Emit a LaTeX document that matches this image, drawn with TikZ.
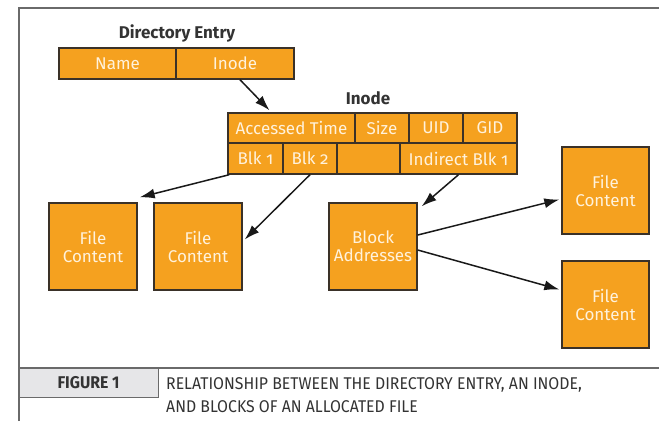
\documentclass[tikz,border=0pt]{standalone}
\usepackage{fontspec}
\setmainfont{Fira Sans}
\newfontfamily\boxfont[Numbers=OldStyle]{Fira Sans}
\newfontfamily\capfont[FakeStretch=0.93]{Fira Sans}
\usetikzlibrary{arrows.meta}
\definecolor{orng}{HTML}{F5A11F}
\definecolor{bord}{HTML}{3A3128}
\definecolor{txtl}{HTML}{FFF2DC}
\definecolor{ttl}{HTML}{333333}
\definecolor{frm}{HTML}{6A6A6A}
\definecolor{figgray}{HTML}{E6E6E8}
\tikzset{
  cell/.style={draw=bord, fill=orng, line width=1.4pt, text=txtl,
    font=\boxfont\fontsize{17}{18}\selectfont, inner sep=0pt, align=center},
  bigbox/.style={cell, minimum width=88pt, minimum height=87pt},
  ttlstyle/.style={text=ttl, font=\bfseries\fontsize{17}{18}\selectfont},
  arr/.style={draw=black!90, line width=1.5pt, -{Latex[length=15pt,width=10pt]}},
  frame/.style={draw=frm, line width=1.2pt}
}
\begin{document}
\begin{tikzpicture}[x=1pt,y=-1pt]
\useasboundingbox (0,0) rectangle (659,421);
% frame
\draw[frame] (19,421) -- (19,8) -- (659,8);
\draw[frame] (19,368) -- (659,368);
\node[draw=frm, fill=figgray, line width=0.8pt, minimum width=139pt, minimum height=29pt, inner sep=0pt,
  text=ttl, font=\capfont\bfseries\fontsize{17}{18}\selectfont] (fig) at (88.5,382.5) {FIGURE 1};
\node[anchor=west, align=left, text=ttl, inner sep=0pt,
  font=\capfont\fontsize{17}{23}\selectfont] (cap) at (166,395)
  {RELATIONSHIP BETWEEN THE DIRECTORY ENTRY, AN INODE,\\AND BLOCKS OF AN ALLOCATED FILE};
% directory entry
\node[ttlstyle] (dtitle) at (177,33) {Directory Entry};
\node[cell, minimum width=117pt, minimum height=31pt] (dname) at (117.5,63.5) {Name};
\node[cell, minimum width=118pt, minimum height=31pt] (dinode) at (235,63.5) {Inode};
% inode
\node[ttlstyle] (ititle) at (368,98) {Inode};
\node[cell, minimum width=127pt, minimum height=30pt] (acc) at (291.5,128) {Accessed Time};
\node[cell, minimum width=54pt, minimum height=30pt] (size) at (382,128) {Size};
\node[cell, minimum width=54pt, minimum height=30pt] (uid) at (436,128) {UID};
\node[cell, minimum width=54pt, minimum height=30pt] (gid) at (490,128) {GID};
\node[cell, minimum width=55pt, minimum height=31pt] (blk1) at (255.5,158.5) {Blk 1};
\node[cell, minimum width=54pt, minimum height=31pt] (blk2) at (310,158.5) {Blk 2};
\node[cell, minimum width=63pt, minimum height=31pt] (empty) at (368.5,158.5) {};
\node[cell, minimum width=117pt, minimum height=31pt] (ind) at (458.5,158.5) {Indirect Blk 1};
% content boxes
\node[bigbox] (fc1) at (93,246.5) {File\\Content};
\node[bigbox] (fc2) at (198,246.5) {File\\Content};
\node[bigbox] (ba) at (373,246.5) {Block\\Addresses};
\node[bigbox, minimum width=87pt] (fcr1) at (605.5,190.5) {File\\Content};
\node[bigbox, minimum width=87pt] (fcr2) at (605.5,304.5) {File\\Content};
% arrows
\draw[arr] ([xshift=5pt]dinode.south) -- ([xshift=-22pt,yshift=2pt]acc.north);
\draw[arr] ([xshift=2pt]blk1.south west) -- ([xshift=2pt,yshift=5pt]fc1.north east);
\draw[arr] (blk2.south) -- ([xshift=2pt,yshift=7pt]fc2.east);
\draw[arr] (ind.south) -- ([xshift=4pt,yshift=-4pt]ba.north east);
\draw[arr] ([yshift=11.5pt]ba.east) -- ([xshift=-2pt,yshift=-9pt]fcr1.west);
\draw[arr] ([yshift=-3.5pt]ba.east) -- ([xshift=-2pt,yshift=15pt]fcr2.west);
\end{tikzpicture}
\end{document}
